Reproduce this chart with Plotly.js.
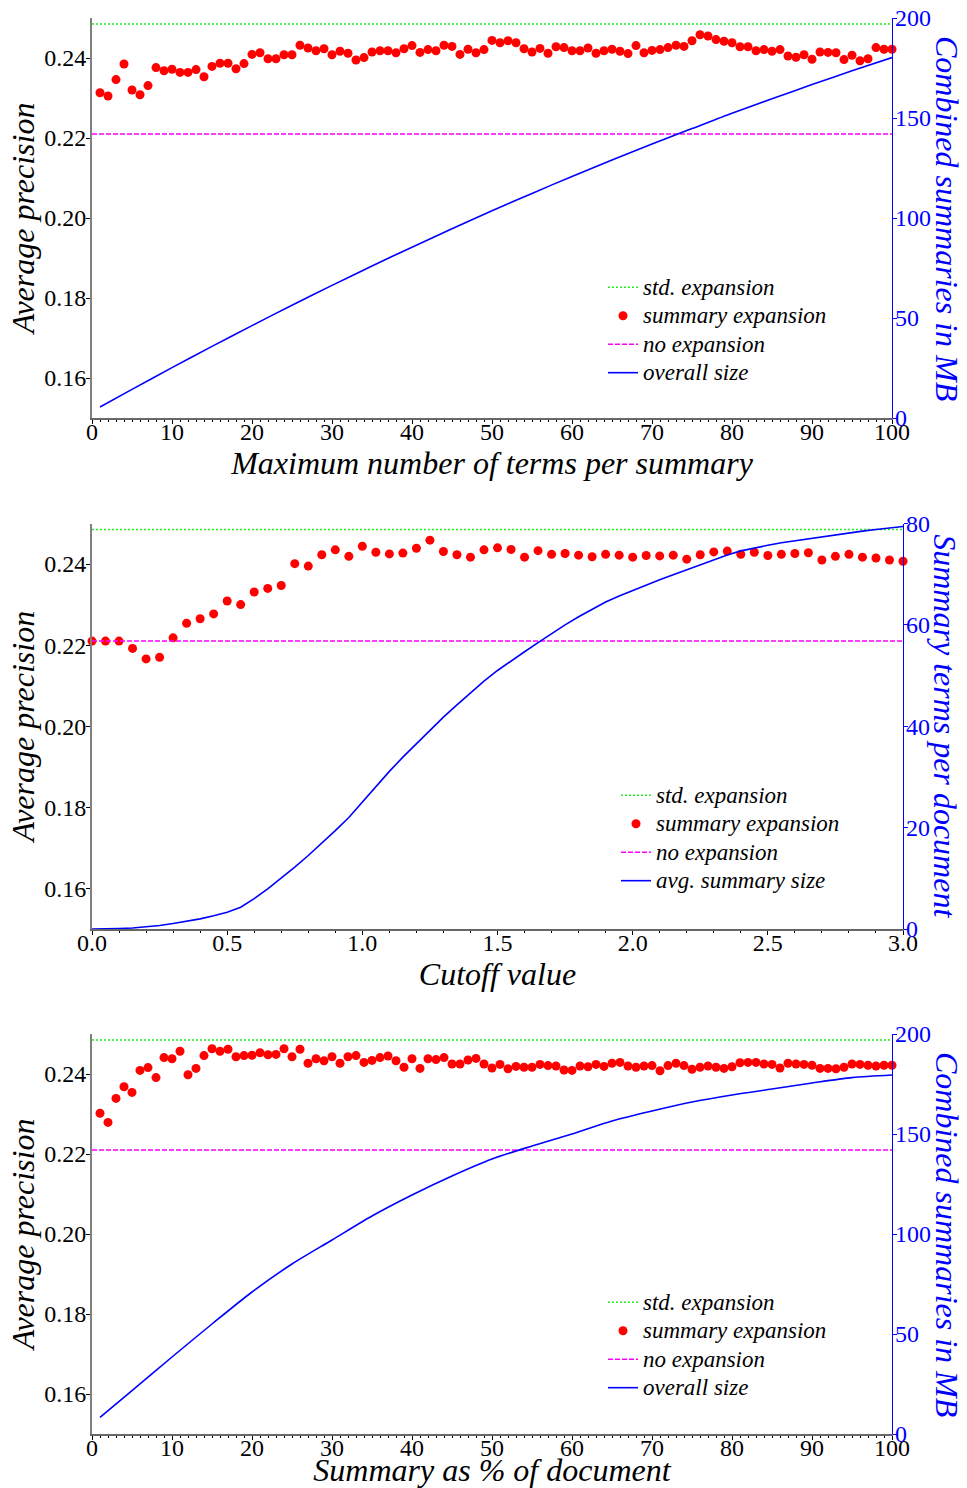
<!DOCTYPE html>
<html>
<head>
<meta charset="utf-8">
<script src="https://cdn.plot.ly/plotly-3.0.1.min.js"></script>
<style>html,body{margin:0;padding:0;background:#fff;}#chart{width:967px;height:1488px;}</style>
</head>
<body>
<div id="chart"></div>
<script>
// ---------- data ----------
const termsX = [1,2,3,4,5,6,7,8,9,10,11,12,13,14,15,16,17,18,19,20,21,22,23,24,25,26,27,28,29,30,31,32,33,34,35,36,37,38,39,40,41,42,43,44,45,46,47,48,49,50,51,52,53,54,55,56,57,58,59,60,61,62,63,64,65,66,67,68,69,70,71,72,73,74,75,76,77,78,79,80,81,82,83,84,85,86,87,88,89,90,91,92,93,94,95,96,97,98,99,100];
const summaryExpTerms = [0.2313,0.2305,0.2346,0.2385,0.2320,0.2308,0.2331,0.2376,0.2368,0.2372,
 0.2364,0.2364,0.2371,0.2353,0.2379,0.2387,0.2387,0.2373,0.2386,0.2409,
 0.2413,0.2398,0.2398,0.2408,0.2408,0.2432,0.2425,0.2418,0.2423,0.2408,
 0.2417,0.2412,0.2395,0.2401,0.2415,0.2418,0.2418,0.2413,0.2423,0.2431,
 0.2414,0.2421,0.2418,0.2432,0.2429,0.2409,0.2422,0.2413,0.2421,0.2444,
 0.2438,0.2443,0.2438,0.2423,0.2415,0.2424,0.2412,0.2428,0.2426,0.2418,
 0.2418,0.2425,0.2412,0.2418,0.2422,0.2417,0.2411,0.2431,0.2413,0.2419,
 0.2421,0.2426,0.2432,0.2429,0.2443,0.2458,0.2455,0.2446,0.2442,0.2438,
 0.2428,0.2428,0.2418,0.2421,0.2417,0.2421,0.2405,0.2402,0.2408,0.2397,
 0.2415,0.2414,0.2413,0.2396,0.2407,0.2393,0.2398,0.2426,0.2422,0.2422];
const sizeTermsX = [1,5,10,15,20,25,30,35,40,45,50,55,60,65,70,75,80,85,90,95,100];
const sizeTermsMB = [5.5,14.3,25.2,35.8,46.2,56.4,66.3,76.0,85.4,94.6,103.6,112.3,120.8,129.0,137.0,144.7,152.4,159.6,166.7,173.6,180.2];

const cutoffX = [0.00,0.05,0.10,0.15,0.20,0.25,0.30,0.35,0.40,0.45,0.50,0.55,0.60,0.65,0.70,0.75,0.80,0.85,0.90,0.95,
 1.00,1.05,1.10,1.15,1.20,1.25,1.30,1.35,1.40,1.45,1.50,1.55,1.60,1.65,1.70,1.75,1.80,1.85,1.90,1.95,
 2.00,2.05,2.10,2.15,2.20,2.25,2.30,2.35,2.40,2.45,2.50,2.55,2.60,2.65,2.70,2.75,2.80,2.85,2.90,2.95,3.00];
const summaryExpCutoff = [0.2210,0.2210,0.2210,0.2192,0.2166,0.2170,0.2218,0.2254,0.2265,0.2277,
 0.2309,0.2300,0.2331,0.2340,0.2347,0.2401,0.2395,0.2423,0.2435,0.2419,
 0.2444,0.2429,0.2425,0.2427,0.2439,0.2459,0.2431,0.2423,0.2417,0.2435,
 0.2440,0.2436,0.2417,0.2433,0.2424,0.2426,0.2422,0.2418,0.2424,0.2422,
 0.2417,0.2421,0.2420,0.2422,0.2412,0.2423,0.2430,0.2432,0.2424,0.2429,
 0.2421,0.2424,0.2426,0.2428,0.2410,0.2419,0.2424,0.2417,0.2415,0.2410,0.2407];
const avgSummarySize = [0,0,0.1,0.2,0.4,0.7,1.1,1.5,2.0,2.6,
 3.3,4.3,6.0,7.9,10.0,12.2,14.5,16.9,19.4,22.0,
 25.0,28.2,31.1,33.9,36.6,39.3,41.8,44.2,46.6,48.9,
 51.0,52.9,54.7,56.5,58.3,60.0,61.6,63.1,64.5,65.7,
 66.8,67.9,68.9,69.9,70.9,71.9,72.9,73.8,74.6,75.2,
 75.7,76.2,76.6,77.0,77.4,77.8,78.2,78.5,78.8,79.1,79.4];

const percentX = termsX;
const summaryExpPercent = [0.2302,0.2279,0.2339,0.2368,0.2354,0.2409,0.2416,0.2391,0.2441,0.2438,
 0.2457,0.2398,0.2414,0.2446,0.2463,0.2457,0.2462,0.2443,0.2446,0.2447,
 0.2453,0.2448,0.2449,0.2463,0.2443,0.2462,0.2427,0.2438,0.2433,0.2443,
 0.2427,0.2443,0.2446,0.2429,0.2434,0.2441,0.2445,0.2433,0.2417,0.2438,
 0.2414,0.2438,0.2436,0.2441,0.2425,0.2425,0.2435,0.2439,0.2425,0.2415,
 0.2424,0.2413,0.2419,0.2417,0.2417,0.2424,0.2421,0.2420,0.2410,0.2409,
 0.2420,0.2418,0.2424,0.2419,0.2427,0.2429,0.2420,0.2417,0.2420,0.2421,
 0.2408,0.2421,0.2427,0.2421,0.2412,0.2417,0.2420,0.2417,0.2414,0.2418,
 0.2428,0.2429,0.2429,0.2425,0.2424,0.2415,0.2427,0.2425,0.2424,0.2422,
 0.2414,0.2414,0.2413,0.2417,0.2425,0.2424,0.2422,0.2420,0.2422,0.2422];
const sizePercentX = [1,5,10,15,20,25,30,35,40,45,50,55,60,65,70,75,80,85,90,95,100];
const sizePercentMB = [8.3,21.7,38.5,55,71,85,97,109,119.5,129,137.5,144,150,156.5,161.5,166,169.5,172.5,175.5,178.2,179.5];

const stdExpansion = 0.2485;
const noExpansion = 0.221;

const xTitles = ['Maximum number of terms per summary','Cutoff value','Summary as % of document'];
const rightTitles = ['Combined summaries in MB','Summary terms per document','Combined summaries in MB'];
const legendNames = ['std. expansion','summary expansion','no expansion'];
const sizeNames = ['overall size','avg. summary size','overall size'];

// ---------- styling ----------
const FONT = '"Liberation Serif", "Times New Roman", serif';
const BLUE = '#0000ff';
const lbl = t => '<span style="font-size:23px">' + t + '</span>';

function mkTraces(idx, xs, ys, lx, ly, xr, smooth) {
  const xa = idx === 0 ? 'x' : 'x' + (idx + 1);
  const yl = idx === 0 ? 'y' : 'y' + (2 * idx + 1);
  const yr = 'y' + (2 * idx + 2);
  const lg = idx === 0 ? 'legend' : 'legend' + (idx + 1);
  return [
    {x: xr, y: [stdExpansion, stdExpansion], xaxis: xa, yaxis: yl, legend: lg, name: lbl(legendNames[0]),
     mode: 'lines', line: {color: '#22ee22', width: 1.5, dash: '2px,2px'}, cliponaxis: false},
    {x: xs, y: ys, xaxis: xa, yaxis: yl, legend: lg, name: lbl(legendNames[1]),
     mode: 'markers', marker: {color: '#ff0000', size: 9}, cliponaxis: false},
    {x: xr, y: [noExpansion, noExpansion], xaxis: xa, yaxis: yl, legend: lg, name: lbl(legendNames[2]),
     mode: 'lines', line: {color: '#ff00ff', width: 1.5, dash: '5px,2px'}, cliponaxis: false},
    {x: lx, y: ly, xaxis: xa, yaxis: yr, legend: lg, name: lbl(sizeNames[idx]),
     mode: 'lines', line: {color: BLUE, width: 1.6, shape: smooth ? 'spline' : 'linear', smoothing: 0.8}, cliponaxis: false}
  ];
}

const traces = [].concat(
  mkTraces(0, termsX, summaryExpTerms, sizeTermsX, sizeTermsMB, [0, 100], true),
  mkTraces(1, cutoffX, summaryExpCutoff, cutoffX, avgSummarySize, [0, 3], false),
  mkTraces(2, percentX, summaryExpPercent, sizePercentX, sizePercentMB, [0, 100], true)
);

const H = 1488, W = 967;
const py = v => 1 - v / H;
const pxx = v => v / W;
const boxes = [
  {l: 92, r: 892, t: 18, b: 418},
  {l: 92, r: 903, t: 523.5, b: 929},
  {l: 92, r: 892, t: 1034, b: 1434}
];

const titleFont = {family: FONT, size: 32, style: 'italic', color: '#000'};
const tickFont = {family: FONT, size: 24, color: '#000'};

const layout = {
  width: W, height: H,
  margin: {l: 0, r: 0, t: 0, b: 0},
  paper_bgcolor: '#fff', plot_bgcolor: '#fff',
  font: {family: FONT, size: 24, color: '#000'},
  showlegend: true,
  annotations: []
};

const xRanges = [[0, 100], [0, 3], [0, 100]];
const xDticks = [10, 0.5, 10];
const xMinor = [1, 0.1, 1];
const xFormats = ['d', '.1f', 'd'];
const rRanges = [[0, 200], [0, 80], [0, 200]];
const rDticks = [50, 20, 50];
const legendPos = [{x: 603, y: 268}, {x: 616, y: 776}, {x: 603, y: 1283}];
const rightTitleX = [947, 945, 947];

boxes.forEach((b, i) => {
  const xk = i === 0 ? 'xaxis' : 'xaxis' + (i + 1);
  const ylk = i === 0 ? 'yaxis' : 'yaxis' + (2 * i + 1);
  const yrk = 'yaxis' + (2 * i + 2);
  const xa = i === 0 ? 'x' : 'x' + (i + 1);
  const yl = i === 0 ? 'y' : 'y' + (2 * i + 1);
  layout[xk] = {
    domain: [pxx(b.l), pxx(b.r)], anchor: yl, range: xRanges[i],
    dtick: xDticks[i], tick0: 0, tickformat: xFormats[i],
    ticks: 'outside', ticklen: 4, tickwidth: 1, tickcolor: '#000',
    ticklabelstandoff: -12,
    minor: {dtick: xMinor[i], ticks: 'outside', ticklen: 2, tickcolor: '#000', showgrid: false},
    showline: true, linecolor: '#666', linewidth: 1.5,
    showgrid: false, zeroline: false, tickfont: tickFont,
    title: {text: xTitles[i], font: titleFont, standoff: 0}
  };
  layout[ylk] = {
    domain: [py(b.b), py(b.t)], anchor: xa, range: [0.15, 0.25],
    tickvals: [0.16, 0.18, 0.20, 0.22, 0.24], tickformat: '.2f',
    ticks: 'outside', ticklen: 4, tickcolor: '#000', ticklabelstandoff: -5,
    showline: true, linecolor: '#808080', linewidth: 2,
    showgrid: false, zeroline: false, tickfont: tickFont,
    title: {text: 'Average precision', font: titleFont, standoff: 0}
  };
  layout[yrk] = {
    overlaying: yl, side: 'right', anchor: xa, range: rRanges[i], dtick: rDticks[i],
    ticks: 'outside', ticklen: 4, tickcolor: BLUE, ticklabelstandoff: -7,
    showline: true, linecolor: BLUE, linewidth: 1.2,
    showgrid: false, zeroline: false,
    tickfont: {family: FONT, size: 24, color: BLUE}
  };
  const lk = i === 0 ? 'legend' : 'legend' + (i + 1);
  layout[lk] = {
    x: pxx(legendPos[i].x), y: py(legendPos[i].y), xanchor: 'left', yanchor: 'top',
    bgcolor: 'rgba(0,0,0,0)', borderwidth: 0, itemwidth: 30, tracegroupgap: 0,
    font: {family: FONT, size: 19.6, style: 'italic', color: '#000'}
  };
  layout.annotations.push({
    xref: 'paper', yref: 'paper', x: pxx(rightTitleX[i]), y: py((b.t + b.b) / 2),
    xanchor: 'center', yanchor: 'middle', textangle: 90, showarrow: false,
    text: rightTitles[i], font: {family: FONT, size: 32, style: 'italic', color: BLUE}
  });
});

Plotly.newPlot('chart', traces, layout, {displayModeBar: false, staticPlot: true});
</script>
</body>
</html>
